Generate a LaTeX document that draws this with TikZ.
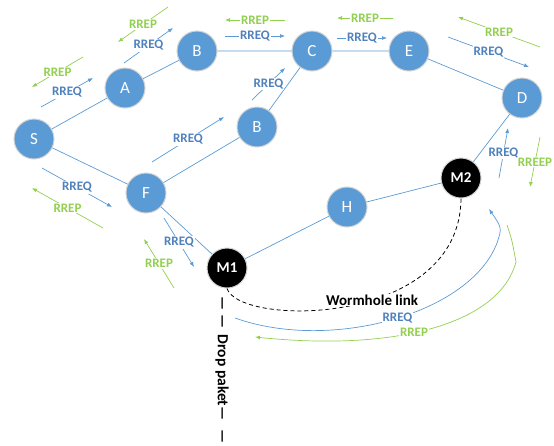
\documentclass[tikz,border=0pt]{standalone}
\usepackage{fontspec}
\setmainfont{Carlito}
\usepackage{tikz}
\usetikzlibrary{arrows.meta}
\definecolor{nodeblue}{HTML}{5B9BD5}
\definecolor{reqblue}{HTML}{4F81BD}
\definecolor{repgreen}{HTML}{92D050}

\begin{document}
\begin{tikzpicture}[x=1pt, y=-1pt,
              every node/.style = {font=\fontsize{13}{13}\selectfont\bfseries},
              peer/.style = {shape=circle, draw=gray!35, line width=1pt,
                fill=nodeblue, text=white, minimum size=40pt, inner sep=0pt,
                font=\fontsize{17}{17}\selectfont},
              evil/.style = {peer, fill=black,
                font=\fontsize{15}{15}\selectfont\bfseries},
              link/.style = {draw=nodeblue, line width=0.7pt},
              rreq/.style = {draw=nodeblue, line width=0.7pt,
                -{Latex[length=5pt,width=4pt]}},
              rrep/.style = {rreq, draw=repgreen},
              tag/.style = {fill=white, inner sep=1pt}]
  \useasboundingbox (0,0) rectangle (554,445);
  % the nodes
  \node[peer] (S)  at (34,139)  {S};
  \node[peer] (A)  at (125,88)  {A};
  \node[peer] (B1) at (197,51)  {B};
  \node[peer] (C)  at (312,51)  {C};
  \node[peer] (E)  at (409,51)  {E};
  \node[peer] (D)  at (522,98)  {D};
  \node[peer] (B2) at (257,127) {B};
  \node[peer] (F)  at (146,193) {F};
  \node[peer] (H)  at (347,207) {H};
  \node[evil] (M1) at (227,268) {M1};
  \node[evil] (M2) at (461,178) {M2};
  % links
  \draw[link] (S) -- (A) -- (B1) -- (C) -- (E) -- (D);
  \draw[link] (S) -- (F) -- (B2) -- (C);
  \draw[link] (F) -- (M1) -- (H) -- (M2) -- (D);
  % route requests
  \foreach \n/\ax/\ay/\bx/\by in {q1/41/107/93/78, q2/124/63/173/28,
      q3/225/36/285/36, q4/337/38/387/38, q5/448/37/529/67,
      q6/499/178/508/128, q7/252/100/285/68, q8/152/162/224/117,
      q9/42/168/112/207, q10/164/218/194/267}{
    \coordinate (\n-a) at (\ax,\ay);
    \coordinate (\n-b) at (\bx,\by);
    \draw[rreq] (\n-a) -- node[tag, text=reqblue] {RREQ} (\n-b);
  }
  % route replies
  \foreach \n/\ax/\ay/\bx/\by/\t in {p1/83/57/32/87/RREP, p2/168/7/118/42/RREP,
      p3/285/20/225/20/RREP, p4/393/18/337/18/RREP,
      p5/540/47/458/17/RREP, p6/540/137/530/187/RREEP,
      p7/103/228/32/188/RREP, p8/174/288/144/239/RREP}{
    \coordinate (\n-a) at (\ax,\ay);
    \coordinate (\n-b) at (\bx,\by);
    \draw[rrep] (\n-a) -- node[tag, text=repgreen] {\t} (\n-b);
  }
  % tunnel
  \draw[black, line width=0.8pt, dash pattern=on 4pt off 3pt]
    (M1.south) .. controls (240,327) and (460,327) .. (M2.south)
    node[tag, pos=0.57, font=\fontsize{15}{15}\selectfont\bfseries] (worm) {Wormhole link};
  \coordinate (wq-a) at (235,318);
  \coordinate (wq-b) at (489,209);
  \draw[rreq] (wq-a) .. controls (330,352) and (470,314) .. (497,243)
    node[tag, pos=0.52, text=reqblue] (wqt) {RREQ}
    .. controls (502,228) .. (wq-b);
  \coordinate (wp-a) at (507,225);
  \coordinate (wp-b) at (255,337);
  \draw[rrep] (wp-a) .. controls (512,240) .. (516,262)
    .. controls (500,322) and (400,352) .. (wp-b)
    node[tag, pos=0.57, text=repgreen] (wpt) {RREP};
  \node[rotate=-90, font=\fontsize{15.5}{15.5}\selectfont\bfseries] (drop) at (222,370)
    {—\hspace{4pt}—\hspace{6pt}Drop paket—\hspace{9pt}—};
\end{tikzpicture}
\end{document}
